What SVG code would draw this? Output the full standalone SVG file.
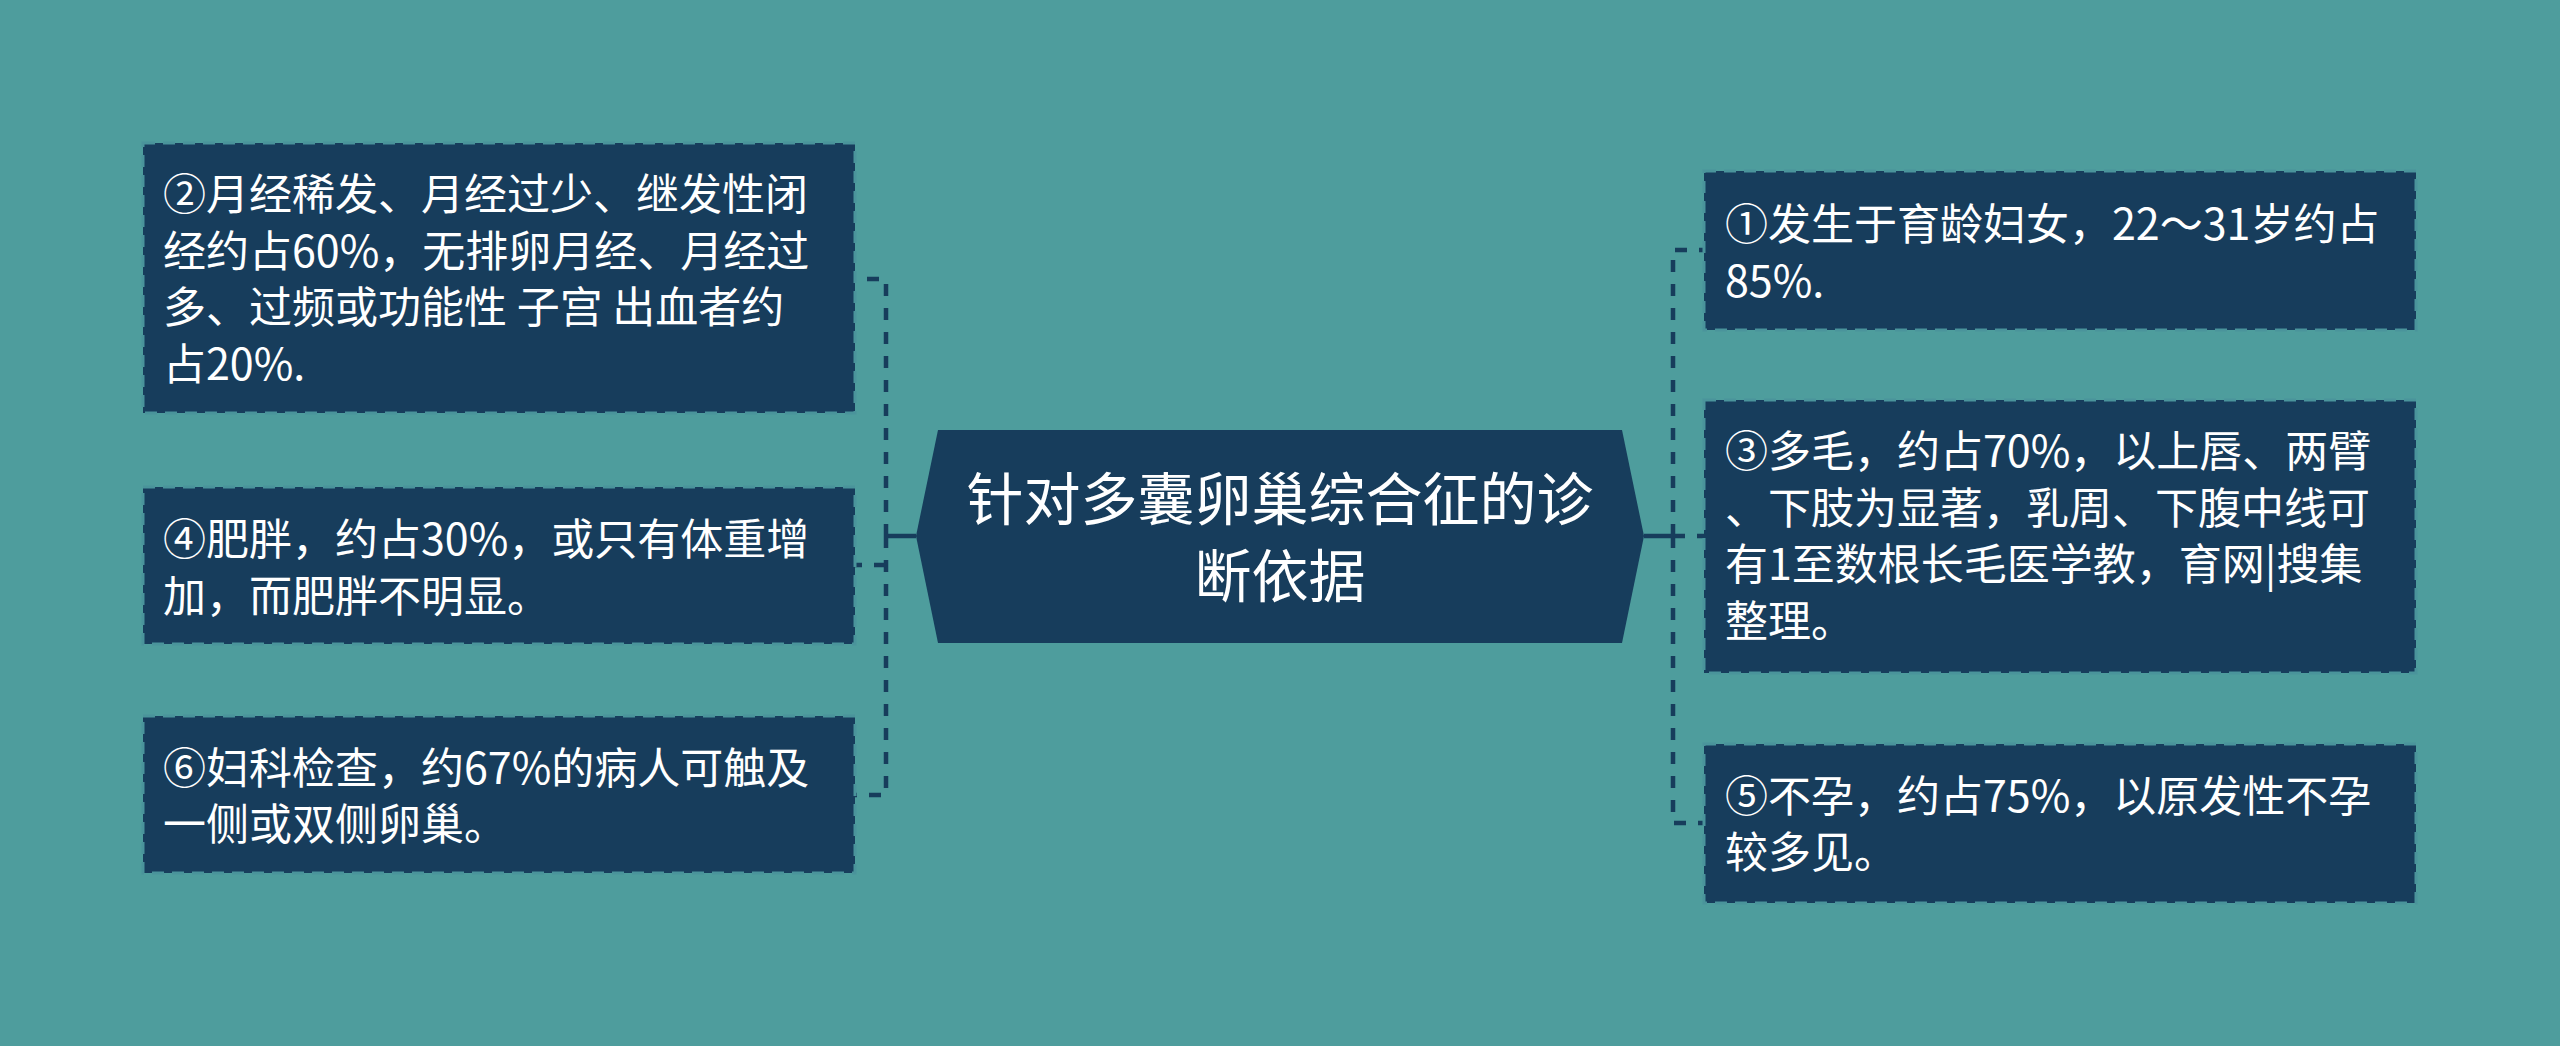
<svg xmlns="http://www.w3.org/2000/svg" width="2560" height="1046" viewBox="0 0 2560 1046">
<style>
.bg{fill:#4e9d9d}
.box{fill:#173d5c;stroke:#4a949b;stroke-width:3;stroke-dasharray:12 8}
.hub{fill:#173d5c}
.t{font-family:"Noto Sans CJK SC","Noto Sans",sans-serif;font-size:43px;fill:#ffffff}
.ct{font-family:"Noto Sans CJK SC","Noto Sans",sans-serif;font-size:57px;fill:#ffffff;text-anchor:middle}
.dl{fill:none;stroke:#173d5c;stroke-width:4.5;stroke-dasharray:12 12}
.sl{fill:none;stroke:#173d5c;stroke-width:4.5}
</style>
<rect class="bg" x="0" y="0" width="2560" height="1046"/>
<g id="connectors">
<path class="sl" d="M916,536 H886"/>
<path class="dl" d="M886,536 V279 H855"/>
<path class="dl" d="M886,536 V795 H855"/>
<path class="dl" d="M886,565 H855"/>
<path class="sl" d="M1644,536 H1673"/>
<path class="dl" d="M1673,536 V250 H1704"/>
<path class="dl" d="M1673,536 V823 H1704"/>
<path class="dl" d="M1673,536 H1704"/>
</g>
<g id="center">
<polygon class="hub" points="938,430 1622,430 1644,536 1622,643 938,643 916,536"/>
<text class="ct" x="1280" y="520">针对多囊卵巢综合征的诊</text>
<text class="ct" x="1280" y="597">断依据</text>
</g>
<g id="node-2">
<rect class="box" x="143" y="143" width="712" height="270"/>
<text class="t" x="163"><tspan x="163" y="210">②月经稀发、月经过少、继发性闭</tspan><tspan x="163" y="267">经约占60%，无排卵月经、月经过</tspan><tspan x="163" y="323">多、过频或功能性 子宫 出血者约</tspan><tspan x="163" y="380">占20%.</tspan></text>
</g>
<g id="node-4">
<rect class="box" x="143" y="487" width="712" height="157"/>
<text class="t" x="163"><tspan x="163" y="555">④肥胖，约占30%，或只有体重增</tspan><tspan x="163" y="612">加，而肥胖不明显。</tspan></text>
</g>
<g id="node-6">
<rect class="box" x="143" y="716" width="712" height="157"/>
<text class="t" x="163"><tspan x="163" y="784">⑥妇科检查，约67%的病人可触及</tspan><tspan x="163" y="840">一侧或双侧卵巢。</tspan></text>
</g>
<g id="node-1">
<rect class="box" x="1704" y="171" width="712" height="159"/>
<text class="t" x="1725"><tspan x="1725" y="240">①发生于育龄妇女，22～31岁约占</tspan><tspan x="1725" y="297">85%.</tspan></text>
</g>
<g id="node-3">
<rect class="box" x="1704" y="400" width="712" height="273"/>
<text class="t" x="1725"><tspan x="1725" y="467">③多毛，约占70%，以上唇、两臂</tspan><tspan x="1725" y="524">、下肢为显著，乳周、下腹中线可</tspan><tspan x="1725" y="580">有1至数根长毛医学教，育网|搜集</tspan><tspan x="1725" y="637">整理。</tspan></text>
</g>
<g id="node-5">
<rect class="box" x="1704" y="744" width="712" height="159"/>
<text class="t" x="1725"><tspan x="1725" y="812">⑤不孕，约占75%，以原发性不孕</tspan><tspan x="1725" y="868">较多见。</tspan></text>
</g>
</svg>
